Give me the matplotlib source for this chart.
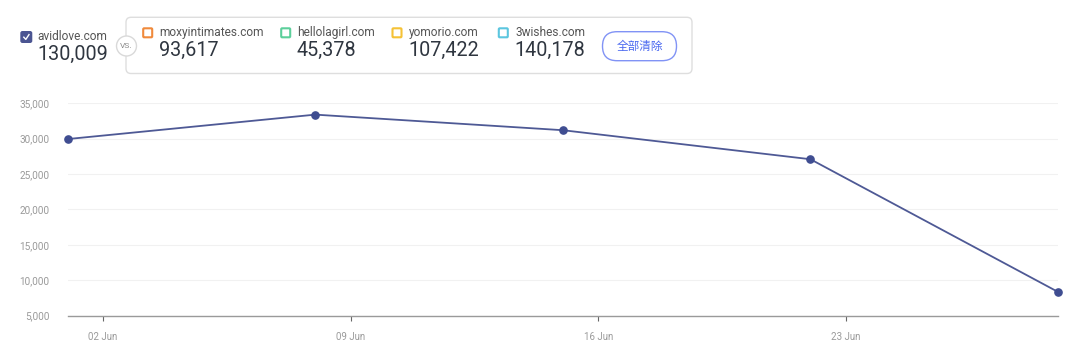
import matplotlib
matplotlib.use("Agg")
import matplotlib.pyplot as plt
import matplotlib.dates as mdates
from matplotlib.patches import FancyBboxPatch, Circle
from matplotlib.lines import Line2D
from matplotlib.transforms import Affine2D
import pandas as pd

# ---- data ----
dates = ["2024-06-01", "2024-06-08", "2024-06-15", "2024-06-22", "2024-06-29"]
visits = [29950, 33400, 31200, 27100, 8360]
tick_dates = ["2024-06-02", "2024-06-09", "2024-06-16", "2024-06-23"]
y_ticks = [5000, 10000, 15000, 20000, 25000, 30000, 35000]

main_site = "avidlove.com"
main_total = "130,009"
comp_sites = ["moxyintimates.com", "hellolagirl.com", "yomorio.com", "3wishes.com"]
comp_totals = ["93,617", "45,378", "107,422", "140,178"]
comp_colors = ["#f08a3c", "#5ccf9b", "#f5c236", "#5cc6df"]
button_text = "全部清除"

W, H = 1080, 346
plt.rcParams['font.family'] = ['Roboto', 'DejaVu Sans']

fig = plt.figure(figsize=(W / 100, H / 100), dpi=100)
T = Affine2D().scale(0.01) + fig.dpi_scale_trans


def Y(y):
    return H - y


# ---- chart ----
ax = fig.add_axes([67.7 / W, 1 - 315.7 / H, (1058 - 67.7) / W, (315.7 - 103.3) / H])
x = pd.to_datetime(dates)
line_color = "#4e5995"
ax.plot(x, visits, color=line_color, lw=1.3, marker="o", ms=5.2,
        markerfacecolor="#3f4d91", markeredgecolor="#3f4d91", clip_on=False, zorder=3)
ax.set_xlim(x[0], x[-1])
ax.set_ylim(5000, 35000)
ax.set_yticks(y_ticks)
ax.set_yticklabels([f"{v:,}" for v in y_ticks])
ax.set_xticks(pd.to_datetime(tick_dates))
ax.xaxis.set_major_formatter(mdates.DateFormatter("%d %b"))
ax.grid(axis="y", color="#f1f1f1", lw=0.8)
ax.set_axisbelow(True)
for s in ["top", "right", "left"]:
    ax.spines[s].set_visible(False)
ax.spines["bottom"].set_color("#9a9a9a")
ax.spines["bottom"].set_linewidth(1.0)
ax.tick_params(axis="y", length=0, pad=13, labelsize=7.2, labelcolor="#9a9a9a")
ax.tick_params(axis="x", length=3.5, width=0.8, color="#666666", pad=8,
               labelsize=7.0, labelcolor="#9a9a9a")

# ---- header ----
# main site checkbox
fig.patches.append(FancyBboxPatch((21, Y(42.3)), 10.6, 10.6,
                                  boxstyle="round,pad=0,rounding_size=1.5",
                                  fc="#4b5592", ec="#4b5592", transform=T))
fig.lines.append(Line2D([23.8, 25.8, 29.0], [Y(37.2), Y(39.4), Y(34.6)],
                        color="white", lw=1.0, transform=T))
fig.text(37.3, Y(36.5), main_site, transform=T, fontsize=8.6, color="#555555",
         va="center", ha="left")
fig.text(37.0, Y(54.5), main_total, transform=T, fontsize=14.2, color="#2f3640",
         va="center", ha="left")

# comparison box
fig.patches.append(FancyBboxPatch((126, Y(73.5)), 566, 56.2,
                                  boxstyle="round,pad=0,rounding_size=5",
                                  fc="white", ec="#dedede", lw=1.0, transform=T))
fig.patches.append(Circle((126.5, Y(46)), 10, fc="white", ec="#d9d9d9", lw=1.0,
                          transform=T, zorder=3))
fig.text(126.5, Y(46), "VS.", transform=T, fontsize=6, color="#8a8a8a",
         va="center", ha="center", zorder=4)

sq_x = [142.7, 280.7, 392.0, 498.3]
txt_x = [159.3, 296.7, 409.0, 515.0]
for sx, tx, name, tot, col in zip(sq_x, txt_x, comp_sites, comp_totals, comp_colors):
    fig.patches.append(FancyBboxPatch((sx + 0.5, Y(37.3)), 9, 9,
                                      boxstyle="round,pad=0,rounding_size=1",
                                      fc="white", ec=col, lw=1.5, transform=T))
    fig.text(tx, Y(32.7), name, transform=T, fontsize=8.6, color="#555555",
             va="center", ha="left")
    fig.text(tx - 0.3, Y(50.5), tot, transform=T, fontsize=14.2, color="#2f3640",
             va="center", ha="left")

# clear-all button
fig.patches.append(FancyBboxPatch((602.5, Y(60.7)), 74, 29,
                                  boxstyle="round,pad=0,rounding_size=14.5",
                                  fc="white", ec="#8193f5", lw=1.0, transform=T))
fig.text(639.5, Y(46.3), button_text, transform=T, fontsize=8.4, color="#4a68f0",
         va="center", ha="center", family=["Noto Sans CJK SC", "DejaVu Sans"])

fig.savefig("out.png", dpi=100)
